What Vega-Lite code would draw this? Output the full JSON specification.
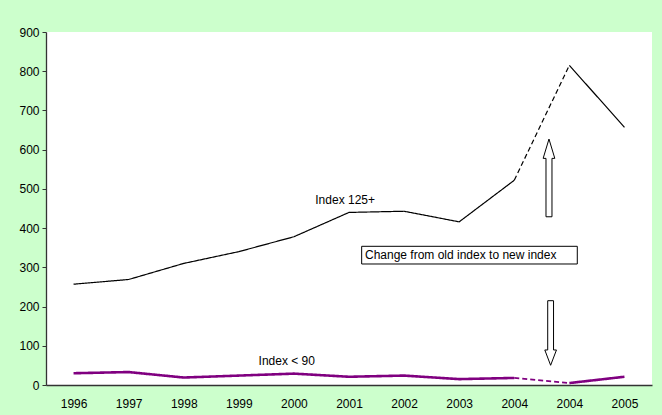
{
  "$schema": "https://vega.github.io/schema/vega-lite/v6.json",
  "width": 606,
  "height": 353,
  "autosize": {"type": "none"},
  "padding": {"left": 46, "top": 32, "right": 10, "bottom": 30},
  "background": "#CCFFCC",
  "config": {
    "view": {"fill": "white", "stroke": null},
    "font": "Liberation Sans",
    "text": {"font": "Liberation Sans"},
    "axis": {
      "domainColor": "#333333",
      "domainWidth": 1.3,
      "tickColor": "#333333",
      "labelFontSize": 12,
      "labelColor": "#000000",
      "labelFont": "Liberation Sans",
      "grid": false,
      "title": null
    },
    "axisY": {"tickSize": 4, "labelPadding": 3, "labelOverlap": false, "labelFlush": false}
  },
  "datasets": {
    "series": [
      {"period": "1996", "series": "Index 125+", "seg": "old", "value": 257},
      {"period": "1997", "series": "Index 125+", "seg": "old", "value": 269},
      {"period": "1998", "series": "Index 125+", "seg": "old", "value": 310},
      {"period": "1999", "series": "Index 125+", "seg": "old", "value": 340},
      {"period": "2000", "series": "Index 125+", "seg": "old", "value": 378},
      {"period": "2001", "series": "Index 125+", "seg": "old", "value": 440},
      {"period": "2002", "series": "Index 125+", "seg": "old", "value": 443},
      {"period": "2003", "series": "Index 125+", "seg": "old", "value": 416},
      {"period": "2004", "series": "Index 125+", "seg": "old", "value": 522},
      {"period": "2004", "series": "Index 125+", "seg": "change", "value": 522},
      {"period": "2004 new", "series": "Index 125+", "seg": "change", "value": 815},
      {"period": "2004 new", "series": "Index 125+", "seg": "new", "value": 815},
      {"period": "2005", "series": "Index 125+", "seg": "new", "value": 657},
      {"period": "1996", "series": "Index < 90", "seg": "old", "value": 30},
      {"period": "1997", "series": "Index < 90", "seg": "old", "value": 33},
      {"period": "1998", "series": "Index < 90", "seg": "old", "value": 19},
      {"period": "1999", "series": "Index < 90", "seg": "old", "value": 24},
      {"period": "2000", "series": "Index < 90", "seg": "old", "value": 29},
      {"period": "2001", "series": "Index < 90", "seg": "old", "value": 21},
      {"period": "2002", "series": "Index < 90", "seg": "old", "value": 24},
      {"period": "2003", "series": "Index < 90", "seg": "old", "value": 15},
      {"period": "2004", "series": "Index < 90", "seg": "old", "value": 18},
      {"period": "2004", "series": "Index < 90", "seg": "change", "value": 18},
      {"period": "2004 new", "series": "Index < 90", "seg": "change", "value": 5},
      {"period": "2004 new", "series": "Index < 90", "seg": "new", "value": 5},
      {"period": "2005", "series": "Index < 90", "seg": "new", "value": 21}
    ],
    "labels": [
      {"label": "Index 125+", "ax": 5.43, "ay": 472},
      {"label": "Index < 90", "ax": 4.37, "ay": 62}
    ],
    "box": [
      {"label": "Change from old index to new index", "ax": 5.73, "ax2": 9.644, "ay": 308.5, "ay2": 353.6, "tx": 5.79, "ty": 332}
    ],
    "arrows": [
      {"dir": "up", "ax": 9.13, "ay": 528},
      {"dir": "down", "ax": 9.16, "ay": 132.6}
    ]
  },
  "layer": [
    {
      "data": {"name": "series"},
      "mark": {"type": "line", "strokeJoin": "miter"},
      "encoding": {
        "x": {
          "field": "period",
          "type": "ordinal",
          "sort": ["1996", "1997", "1998", "1999", "2000", "2001", "2002", "2003", "2004", "2004 new", "2005"],
          "scale": {"type": "point", "padding": 0.5, "domain": ["1996", "1997", "1998", "1999", "2000", "2001", "2002", "2003", "2004", "2004 new", "2005"]},
          "axis": {"ticks": false, "tickSize": 0, "labelPadding": 13, "labelAngle": 0, "labelExpr": "slice(datum.label, 0, 4)"}
        },
        "y": {
          "field": "value",
          "type": "quantitative",
          "scale": {"domain": [0, 900], "nice": false, "zero": true},
          "axis": {"values": [0, 100, 200, 300, 400, 500, 600, 700, 800, 900]}
        },
        "color": {
          "field": "series",
          "type": "nominal",
          "scale": {"domain": ["Index 125+", "Index < 90"], "range": ["#000000", "#800080"]},
          "legend": null
        },
        "strokeDash": {
          "field": "seg",
          "type": "nominal",
          "scale": {"domain": ["old", "change", "new"], "range": [[1, 0], [5, 3], [1, 0]]},
          "legend": null
        },
        "strokeWidth": {
          "condition": [
            {"test": "datum.series == 'Index < 90' && datum.seg != 'change'", "value": 2.6},
            {"test": "datum.series == 'Index < 90'", "value": 1.8}
          ],
          "value": 1.2
        }
      }
    },
    {
      "layer": [
        {
          "data": {"name": "box"},
          "mark": {"type": "rect", "fill": "white", "stroke": "#000000", "strokeWidth": 1},
          "encoding": {
            "x": {"field": "ax", "type": "quantitative", "scale": {"domain": [0, 11], "nice": false, "zero": false}, "axis": null},
            "x2": {"field": "ax2"},
            "y": {"field": "ay", "type": "quantitative", "axis": {"values": [0, 100, 200, 300, 400, 500, 600, 700, 800, 900]}},
            "y2": {"field": "ay2"}
          }
        },
        {
          "data": {"name": "box"},
          "mark": {"type": "text", "align": "left", "baseline": "middle", "fontSize": 12, "font": "Liberation Sans", "color": "#000000"},
          "encoding": {
            "x": {"field": "tx", "type": "quantitative", "axis": null},
            "y": {"field": "ty", "type": "quantitative", "axis": {"values": [0, 100, 200, 300, 400, 500, 600, 700, 800, 900]}},
            "text": {"field": "label"}
          }
        },
        {
          "data": {"name": "labels"},
          "mark": {"type": "text", "align": "center", "baseline": "middle", "fontSize": 12, "font": "Liberation Sans", "color": "#000000"},
          "encoding": {
            "x": {"field": "ax", "type": "quantitative", "axis": null},
            "y": {"field": "ay", "type": "quantitative", "axis": {"values": [0, 100, 200, 300, 400, 500, 600, 700, 800, 900]}},
            "text": {"field": "label"}
          }
        },
        {
          "data": {"name": "arrows"},
          "mark": {"type": "point", "filled": true, "fill": "white", "stroke": "#000000", "strokeWidth": 1, "opacity": 1, "size": 6040},
          "encoding": {
            "x": {"field": "ax", "type": "quantitative", "axis": null},
            "y": {"field": "ay", "type": "quantitative", "axis": {"values": [0, 100, 200, 300, 400, 500, 600, 700, 800, 900]}},
            "shape": {
              "field": "dir",
              "type": "nominal",
              "scale": {
                "domain": ["up", "down"],
                "range": [
                  "M0,-1L0.15,-0.503L0.077,-0.503L0.077,1L-0.077,1L-0.077,-0.503L-0.15,-0.503Z",
                  "M0,0.831L0.15,0.437L0.075,0.437L0.075,-0.831L-0.075,-0.831L-0.075,0.437L-0.15,0.437Z"
                ]
              },
              "legend": null
            }
          }
        }
      ]
    }
  ],
  "resolve": {"scale": {"x": "independent"}}
}
